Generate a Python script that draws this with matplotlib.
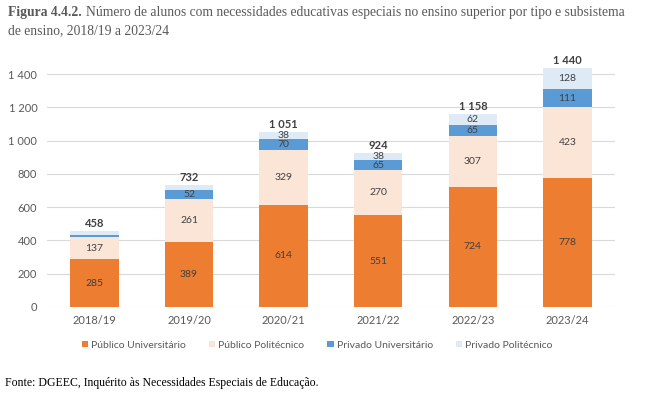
import numpy as np
import matplotlib.pyplot as plt

# data
anos = ["2018/19", "2019/20", "2020/21", "2021/22", "2022/23", "2023/24"]
pub_univ = [285, 389, 614, 551, 724, 778]
pub_poli = [137, 261, 329, 270, 307, 423]
priv_univ = [10, 52, 70, 65, 65, 111]
priv_poli = [26, 30, 38, 38, 62, 128]
# values printed inside segments (None = not labelled)
priv_univ_lbl = [None, 52, 70, 65, 65, 111]
priv_poli_lbl = [None, None, 38, 38, 62, 128]
totais = [458, 732, 1051, 924, 1158, 1440]

series = ["Público Universitário", "Público Politécnico",
          "Privado Universitário", "Privado Politécnico"]
cores = ["#ED7D31", "#FBE5D6", "#5B9BD5", "#DEEBF7"]

plt.rcParams['font.family'] = ['Lato', 'DejaVu Sans']


def fmt(v):
    return f"{v:,}".replace(",", " ")


fig = plt.figure(figsize=(6.54, 3.98), dpi=100)
ax = fig.add_axes([0.072, 0.229, 0.868, 0.618])

x = np.arange(len(anos))
w = 0.51
bottom = np.zeros(len(anos))
valores = [pub_univ, pub_poli, priv_univ, priv_poli]
labels = [pub_univ, pub_poli, priv_univ_lbl, priv_poli_lbl]
for vals, lbls, nome, cor in zip(valores, labels, series, cores):
    ax.bar(x, vals, w, bottom=bottom, color=cor, label=nome, zorder=2)
    for i, (v, l) in enumerate(zip(vals, lbls)):
        if l is not None:
            ax.text(x[i], bottom[i] + v / 2, fmt(l), ha="center", va="center",
                    fontsize=7.5, color="#404040", zorder=3)
    bottom += np.array(vals)

for i, t in enumerate(totais):
    ax.text(x[i], bottom[i] + 12, fmt(t), ha="center", va="bottom",
            fontsize=8, fontweight="bold", color="#404040")

ax.set_xlim(-0.5, len(anos) - 0.5)
ax.set_ylim(0, 1480)
ax.set_yticks(range(0, 1401, 200))
ax.set_yticklabels([fmt(v) for v in range(0, 1401, 200)])
ax.set_xticks(x)
ax.set_xticklabels(anos)
ax.tick_params(axis="both", length=0, labelsize=8, colors="#595959")
ax.tick_params(axis="y", pad=7)
ax.tick_params(axis="x", pad=6)
ax.grid(axis="y", color="#D9D9D9", linewidth=0.8, zorder=0)
for s in ax.spines.values():
    s.set_visible(False)

fig.legend(loc="center", bbox_to_anchor=(0.485, 0.133), ncol=4, frameon=False,
           fontsize=7.5, handlelength=0.6, handleheight=0.6, handletextpad=0.3,
           columnspacing=2.2, labelcolor="#595959")

serif = ['Liberation Serif', 'DejaVu Serif']
t1 = fig.text(0.012, 0.968, "Figura 4.4.2.", fontsize=9.8, fontweight="bold",
              color="#595959", family=serif, va="center")
fig.canvas.draw()
bb = t1.get_window_extent().transformed(fig.transFigure.inverted())
fig.text(bb.x1 + 0.006, 0.968,
         "Número de alunos com necessidades educativas especiais no ensino superior por tipo e subsistema",
         fontsize=9.8, color="#595959", family=serif, va="center")
fig.text(0.012, 0.922, "de ensino, 2018/19 a 2023/24", fontsize=9.8,
         color="#595959", family=serif, va="center")
fig.text(0.008, 0.038, "Fonte: DGEEC, Inquérito às Necessidades Especiais de Educação.",
         fontsize=8.5, color="#000000", family=serif, va="center")

fig.savefig("out.png", dpi=100)
